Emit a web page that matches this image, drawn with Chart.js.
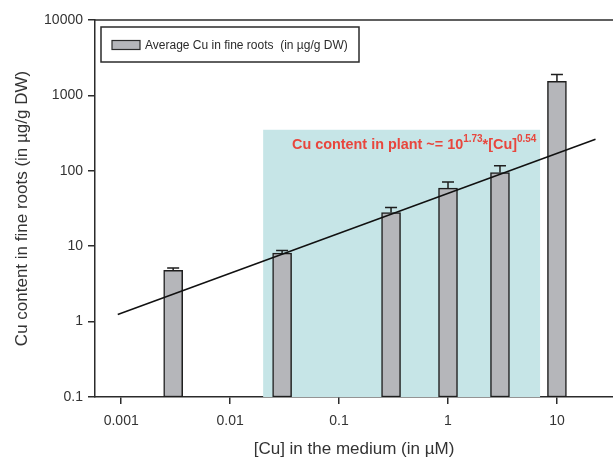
<!DOCTYPE html>
<html>
<head>
<meta charset="utf-8">
<script src="https://cdn.jsdelivr.net/npm/chart.js@4.4.0/dist/chart.umd.min.js"></script>
<style>
  html, body { margin: 0; padding: 0; background: #ffffff; }
  #wrap { width: 613px; height: 460px; }
</style>
</head>
<body>
<div id="wrap"><canvas id="c" width="613" height="460"></canvas></div>
<script>
// ---- data ----
const concentrations = [0.003, 0.03, 0.3, 1, 3, 10];          // [Cu] in medium (µM)
const meanCu = [4.8, 8.1, 28, 59, 95, 1540];                    // average Cu in fine roots (µg/g DW)
const errorTop = [5.15, 8.8, 32.5, 71, 117, 1890];              // top of error bars
const fitX = [0.00093, 22.6];                                   // fitted line end points (x)
const fitY = [1.24, 262];                                       // fitted line end points (y)
const shadeX = [0.0201, 7.0];                                   // shaded concentration range
const shadeTop = 350;
const xTicks = [0.001, 0.01, 0.1, 1, 10];
const xTickLabels = ['0.001', '0.01', '0.1', '1', '10'];
const yTicks = [0.1, 1, 10, 100, 1000, 10000];
const yTickLabels = ['0.1', '1', '10', '100', '1000', '10000'];
const legendLabel = 'Average Cu in fine roots  (in µg/g DW)';
const xTitle = '[Cu] in the medium (in µM)';
const yTitle = 'Cu content in fine roots (in µg/g DW)';
const annotation = [
  {t: 'Cu content in plant ~= 10', sup: false},
  {t: '1.73', sup: true},
  {t: '*[Cu]', sup: false},
  {t: '0.54', sup: true}
];
const annotationAnchor = {x: 0.037, y: 197};

const FONT = "'Liberation Sans', Arial, sans-serif";
const INK = '#2b2b2b';

const shadePlugin = {
  id: 'shade',
  beforeDatasetsDraw(chart) {
    const {ctx, scales: {x, y}} = chart;
    const l = x.getPixelForValue(shadeX[0]);
    const r = x.getPixelForValue(shadeX[1]);
    const t = y.getPixelForValue(shadeTop);
    const b = chart.chartArea.bottom;
    ctx.save();
    ctx.fillStyle = '#c6e5e7';
    ctx.fillRect(l, t, r - l, b - t);
    ctx.restore();
  }
};

const errorPlugin = {
  id: 'errbars',
  afterDatasetsDraw(chart) {
    const {ctx, scales: {x, y}} = chart;
    ctx.save();
    ctx.strokeStyle = '#1e1e1e';
    ctx.lineWidth = 1.5;
    for (let i = 0; i < concentrations.length; i++) {
      const px = x.getPixelForValue(concentrations[i]);
      const y0 = y.getPixelForValue(meanCu[i]);
      const y1 = y.getPixelForValue(errorTop[i]);
      ctx.beginPath();
      ctx.moveTo(px, y0);
      ctx.lineTo(px, y1);
      ctx.moveTo(px - 6, y1);
      ctx.lineTo(px + 6, y1);
      ctx.stroke();
    }
    ctx.restore();
  }
};

const decorPlugin = {
  id: 'decor',
  afterDraw(chart) {
    const {ctx, chartArea, scales: {x, y}} = chart;
    ctx.save();
    // top frame line
    ctx.strokeStyle = INK;
    ctx.lineWidth = 1.5;
    ctx.beginPath();
    ctx.moveTo(chartArea.left, chartArea.top);
    ctx.lineTo(chartArea.right, chartArea.top);
    ctx.stroke();

    // legend box
    const bx = 101, by = 27, bw = 258, bh = 35;
    ctx.lineWidth = 1.5;
    ctx.strokeStyle = INK;
    ctx.strokeRect(bx, by, bw, bh);
    ctx.fillStyle = '#b5b6ba';
    ctx.fillRect(112, 40.5, 28, 9);
    ctx.lineWidth = 1.2;
    ctx.strokeRect(112, 40.5, 28, 9);
    ctx.fillStyle = INK;
    ctx.font = '12px ' + FONT;
    ctx.textBaseline = 'middle';
    ctx.textAlign = 'left';
    ctx.fillText(chart.data.datasets[1].label, 145, 45.5);

    // annotation
    let ax = x.getPixelForValue(annotationAnchor.x);
    const ay = y.getPixelForValue(annotationAnchor.y);
    ctx.fillStyle = '#e8463d';
    ctx.textBaseline = 'alphabetic';
    for (const part of annotation) {
      ctx.font = (part.sup ? 'bold 10px ' : 'bold 14.4px ') + FONT;
      ctx.fillText(part.t, ax, part.sup ? ay - 7 : ay);
      ax += ctx.measureText(part.t).width;
    }
    ctx.restore();
  }
};

new Chart(document.getElementById('c'), {
  data: {
    datasets: [
      {
        type: 'line',
        label: 'fit',
        data: fitX.map((v, i) => ({x: v, y: fitY[i]})),
        borderColor: '#111111',
        borderWidth: 1.5,
        pointRadius: 0,
        fill: false,
        order: 0
      },
      {
        type: 'bar',
        label: legendLabel,
        data: concentrations.map((v, i) => ({x: v, y: meanCu[i]})),
        backgroundColor: '#b5b6ba',
        borderColor: '#1e1e1e',
        borderWidth: 1.5,
        borderSkipped: false,
        barThickness: 19,
        order: 1
      }
    ]
  },
  options: {
    responsive: false,
    devicePixelRatio: 1,
    animation: false,
    layout: {padding: {left: 0, top: 20, right: 0, bottom: 0}},
    plugins: {legend: {display: false}, tooltip: {enabled: false}},
    scales: {
      x: {
        type: 'logarithmic',
        position: 'bottom',
        offset: false,
        min: 0.000575,
        max: 32.7,
        afterBuildTicks(s) { s.ticks = xTicks.map(v => ({value: v})); },
        afterFit(s) { s.height = 63; },
        ticks: {
          autoSkip: false,
          maxRotation: 0,
          padding: 9,
          color: '#333333',
          font: {family: FONT, size: 14},
          callback(v) { const i = xTicks.indexOf(v); return i >= 0 ? xTickLabels[i] : ''; }
        },
        grid: {offset: false, drawOnChartArea: false, drawTicks: true, tickLength: 7, color: INK, lineWidth: 1.5},
        border: {display: true, color: INK, width: 1.5},
        title: {display: true, text: xTitle, color: '#333333', font: {family: FONT, size: 17}, padding: {top: 0, bottom: 0}}
      },
      y: {
        type: 'logarithmic',
        position: 'left',
        min: 0.1,
        max: 10000,
        afterBuildTicks(s) { s.ticks = yTicks.map(v => ({value: v})); },
        afterFit(s) { s.width = 95; },
        ticks: {
          autoSkip: false,
          padding: 5,
          color: '#333333',
          font: {family: FONT, size: 14},
          callback(v) { const i = yTicks.indexOf(v); return i >= 0 ? yTickLabels[i] : ''; }
        },
        grid: {drawOnChartArea: false, drawTicks: true, tickLength: 7, color: INK, lineWidth: 1.5},
        border: {display: true, color: INK, width: 1.5},
        title: {display: true, text: yTitle, color: '#333333', font: {family: FONT, size: 17}, padding: {top: 12, bottom: 0}}
      }
    }
  },
  plugins: [shadePlugin, errorPlugin, decorPlugin]
});
</script>
</body>
</html>
